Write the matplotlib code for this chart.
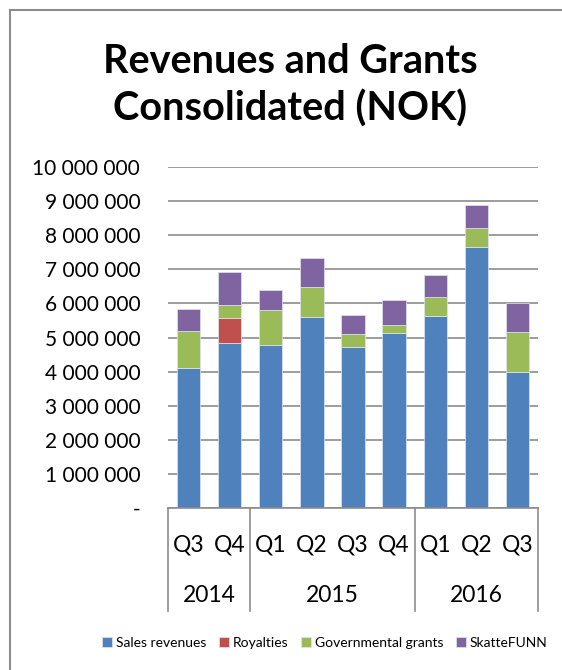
import matplotlib
matplotlib.use("Agg")
import matplotlib.pyplot as plt
from matplotlib.lines import Line2D
import numpy as np

plt.rcParams['font.family'] = ['Lato', 'DejaVu Sans']

quarters = ['Q3', 'Q4', 'Q1', 'Q2', 'Q3', 'Q4', 'Q1', 'Q2', 'Q3']
years = ['2014', '2015', '2016']
year_counts = [2, 4, 3]

sales = [4110000, 4850000, 4770000, 5590000, 4730000, 5120000, 5630000, 7660000, 4000000]
royalties = [0, 710000, 0, 0, 0, 0, 0, 0, 0]
grants = [1090000, 400000, 1050000, 890000, 380000, 250000, 570000, 560000, 1150000]
skattefunn = [650000, 950000, 570000, 850000, 560000, 740000, 630000, 680000, 870000]

series = [
    ('Sales revenues', sales, '#4F81BD'),
    ('Royalties', royalties, '#C0504D'),
    ('Governmental grants', grants, '#9BBB59'),
    ('SkatteFUNN', skattefunn, '#8064A2'),
]

W, H = 562, 670
fig = plt.figure(figsize=(W / 100, H / 100), dpi=100)

# plot area in pixels: x 168..538, y 167..508
ax = fig.add_axes([168 / W, (H - 508) / H, (538 - 168) / W, (508 - 167) / H])

x = np.arange(len(quarters))
bottom = np.zeros(len(quarters))
for name, vals, col in series:
    vals = np.array(vals, dtype=float)
    ax.bar(x, vals, 0.57, bottom=bottom, color=col, label=name,
           edgecolor='#dfe6f0', linewidth=0.5, zorder=3)
    bottom += vals

ax.set_xlim(-0.5, len(quarters) - 0.5)
ax.set_ylim(0, 10000000)
yt = np.arange(0, 10000001, 1000000)
ax.set_yticks(yt)
ax.set_yticklabels(['-'] + ['{:,}'.format(v).replace(',', ' ') for v in yt[1:]],
                   fontsize=15)
ax.tick_params(axis='y', length=0, pad=20)
ax.tick_params(axis='x', length=0, labelbottom=False)
ax.grid(axis='y', color='#8c8c8c', linewidth=1.2, zorder=0)
for s in ax.spines.values():
    s.set_visible(False)

# multi-level category axis
tr = ax.get_xaxis_transform()
ax.plot([-0.5, len(quarters) - 0.5], [0, 0], color='#8c8c8c', lw=1.2,
        transform=tr, clip_on=False, zorder=4)
edges = np.concatenate([[0], np.cumsum(year_counts)]) - 0.5
for e in edges:
    ax.plot([e, e], [0, -0.302], color='#8c8c8c', lw=1.2, transform=tr,
            clip_on=False)
for i, q in enumerate(quarters):
    ax.text(i, -0.108, q, transform=tr, ha='center', va='center', fontsize=16.5)
for k, yr in enumerate(years):
    ax.text((edges[k] + edges[k + 1]) / 2, -0.258, yr, transform=tr,
            ha='center', va='center', fontsize=16.5)

fig.text(290 / W, (H - 85) / H, 'Revenues and Grants\nConsolidated (NOK)',
         ha='center', va='center', fontsize=28.5, fontweight='bold',
         linespacing=1.3)

fig.legend(loc='center', bbox_to_anchor=(325 / W, (H - 643) / H), ncol=4,
           frameon=False, fontsize=10, handlelength=0.7, handleheight=0.7,
           handletextpad=0.3, columnspacing=0.9)

# chart border (top and left visible in the crop)
fig.add_artist(Line2D([9.5 / W, 1], [1 - 9.5 / H, 1 - 9.5 / H],
                      color='#8c8c8c', lw=1.5))
fig.add_artist(Line2D([9.5 / W, 9.5 / W], [0, 1 - 9.5 / H],
                      color='#8c8c8c', lw=1.5))

fig.savefig('out.png', dpi=100)
